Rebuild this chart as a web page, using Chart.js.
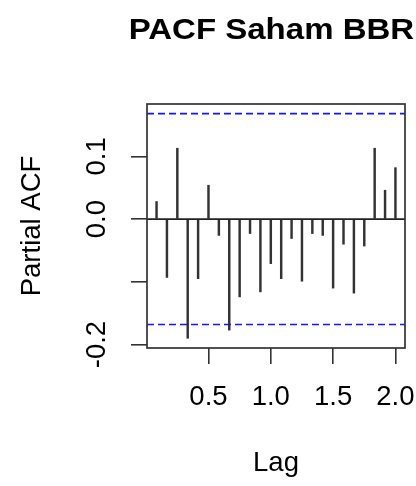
<!DOCTYPE html>
<html lang="en">
<head>
    <meta charset="UTF-8">
    <title>PACF Saham BBRI</title>
    <script src="https://cdn.jsdelivr.net/npm/chart.js"></script>
    <style>
        html, body { margin: 0; padding: 0; background: #fff; }
        #pacfChart { display: block; }
    </style>
</head>

<body>
    <canvas id="pacfChart" width="416" height="486"></canvas>

    <script>
        // monthly series -> lags k/12
        const lags = [1, 2, 3, 4, 5, 6, 7, 8, 9, 10, 11, 12, 13, 14, 15, 16, 17, 18, 19, 20, 21, 22, 23, 24].map(k => k / 12);
        const pacfValues = [0.028, -0.093, 0.113, -0.190, -0.095, 0.054, -0.026, -0.177, -0.124, -0.023, -0.116, -0.071,
            -0.095, -0.031, -0.099, -0.023, -0.026, -0.110, -0.040, -0.118, -0.043, 0.113, 0.046, 0.082];
        const ciBound = 0.168;
        const xTicks = [0.5, 1.0, 1.5, 2.0];
        const yTicks = [-0.2, -0.1, 0.0, 0.1];
        const yLabelled = [-0.2, 0.0, 0.1];

        const xMin = 0.0067, xMax = 2.0767;
        const yMin = -0.2055, yMax = 0.1835;

        const font = "'Liberation Sans', Arial, sans-serif";

        const hLine = (y, color, dash, width) => ({
            type: 'line',
            data: [{ x: xMin, y: y }, { x: xMax, y: y }],
            borderColor: color,
            borderWidth: width,
            borderDash: dash,
            pointRadius: 0,
            fill: false
        });

        const framePlugin = {
            id: 'frame',
            afterDraw(chart) {
                const { ctx, chartArea: a } = chart;
                ctx.save();
                ctx.strokeStyle = '#333';
                ctx.lineWidth = 1.7;
                ctx.strokeRect(a.left, a.top, a.right - a.left, a.bottom - a.top);
                // main title centred over the plot region, like R (its font runs a bit wider)
                ctx.fillStyle = '#000';
                ctx.font = 'bold 30px ' + font;
                ctx.textAlign = 'center';
                ctx.textBaseline = 'alphabetic';
                ctx.translate((a.left + a.right) / 2, 38.5);
                ctx.scale(1.1, 1);
                ctx.fillText('PACF Saham BBRI', 0, 0);
                ctx.restore();
            }
        };

        const noEdgePad = s => { s.paddingLeft = 0; s.paddingRight = 0; s.paddingTop = 0; s.paddingBottom = 0; };

        new Chart(document.getElementById('pacfChart'), {
            type: 'bar',
            data: {
                datasets: [
                    {
                        label: 'PACF',
                        data: lags.map((l, i) => ({ x: l, y: pacfValues[i] })),
                        backgroundColor: '#333',
                        barThickness: 1.8,
                        order: 2
                    },
                    Object.assign(hLine(0, '#222', [], 1.6), { order: 1 }),
                    Object.assign(hLine(ciBound, '#1515ff', [7, 4], 1.7), { order: 0 }),
                    Object.assign(hLine(-ciBound, '#1515ff', [7, 4], 1.7), { order: 0 })
                ]
            },
            options: {
                responsive: false,
                animation: false,
                layout: { padding: { top: 104, right: 11, left: 0, bottom: 0 } },
                plugins: { legend: { display: false }, tooltip: { enabled: false }, title: { display: false } },
                scales: {
                    x: {
                        type: 'linear',
                        min: xMin,
                        max: xMax,
                        offset: false,
                        afterBuildTicks: s => { s.ticks = xTicks.map(v => ({ value: v })); },
                        afterFit: s => { s.height = 138; noEdgePad(s); },
                        grid: { drawOnChartArea: false, drawTicks: true, tickLength: 16, color: '#333', lineWidth: 1.6, offset: false },
                        border: { display: false },
                        ticks: {
                            color: '#000',
                            padding: 17,
                            maxRotation: 0,
                            autoSkip: false,
                            font: { family: font, size: 27.5 },
                            callback: v => v.toFixed(1)
                        },
                        title: {
                            display: true,
                            text: 'Lag',
                            color: '#000',
                            font: { family: font, size: 27.5 },
                            padding: { top: 0, bottom: 6 }
                        }
                    },
                    y: {
                        min: yMin,
                        max: yMax,
                        afterBuildTicks: s => { s.ticks = yTicks.map(v => ({ value: v })); },
                        afterFit: s => { s.width = 147; noEdgePad(s); },
                        grid: { drawOnChartArea: false, drawTicks: true, tickLength: 16, color: '#333', lineWidth: 1.6 },
                        border: { display: false },
                        ticks: {
                            color: '#000',
                            padding: 10,
                            minRotation: 90,
                            maxRotation: 90,
                            crossAlign: 'center',
                            autoSkip: false,
                            font: { family: font, size: 27.5 },
                            callback: v => yLabelled.some(t => Math.abs(t - v) < 1e-9) ? v.toFixed(1) : ''
                        },
                        title: {
                            display: true,
                            text: 'Partial ACF',
                            color: '#000',
                            font: { family: font, size: 27.5 },
                            padding: { top: 16, bottom: 0 }
                        }
                    }
                }
            },
            plugins: [framePlugin]
        });
    </script>
</body>
</html>
